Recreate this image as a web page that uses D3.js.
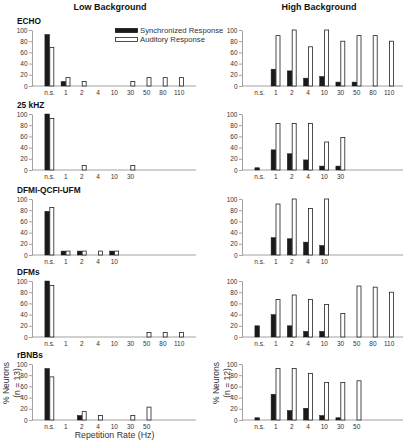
<!DOCTYPE html>
<html><head><meta charset="utf-8">
<script src="https://cdn.jsdelivr.net/npm/d3@7"></script>
<style>
html,body{margin:0;padding:0;background:#fff;}
svg{display:block;font-family:"Liberation Sans",Arial,Helvetica,sans-serif;}
</style></head>
<body>
<svg id="chart" width="403" height="440"></svg>
<script>
// ---- data ----
const categories = ["n.s.","1","2","4","10","30","50","80","110"];
const panelTitles = ["ECHO","25 kHZ","DFMI-QCFI-UFM","DFMs","rBNBs"];
const columnTitles = ["Low Background","High Background"];
const legendLabels = ["Synchronized Response","Auditory Response"];
const yTicks = [0,20,40,60,80,100];
// number of labelled categories per row (low, high)
const labelCountsLow  = [9,6,5,9,7];
const labelCountsHigh = [9,6,5,9,7];

// Low background
const lowEchoSync  = [92,8,0,0,0,0,0,0,0];
const lowEchoAud   = [69,15,8,0,0,8,15,15,15];
const low25Sync    = [100,0,0,0,0,0,0,0,0];
const low25Aud     = [92,0,8,0,0,8,0,0,0];
const lowDfmiSync  = [78,7,7,0,7,0,0,0,0];
const lowDfmiAud   = [85,7,7,7,7,0,0,0,0];
const lowDfmSync   = [100,0,0,0,0,0,0,0,0];
const lowDfmAud    = [92,0,0,0,0,0,8,8,8];
const lowRbnbSync  = [92,0,8,0,0,0,0,0,0];
const lowRbnbAud   = [77,0,15,8,0,8,23,0,0];

// High background
const highEchoSync = [0,30,27,14,17,7,7,0,0];
const highEchoAud  = [0,90,100,70,100,80,90,90,80];
const high25Sync   = [4,36,29,18,7,7,0,0,0];
const high25Aud    = [0,83,83,83,50,58,0,0,0];
const highDfmiSync = [0,31,29,23,17,0,0,0,0];
const highDfmiAud  = [0,91,100,83,100,0,0,0,0];
const highDfmSync  = [20,40,20,10,10,0,0,0,0];
const highDfmAud   = [0,67,75,67,58,42,91,89,80];
const highRbnbSync = [4,46,17,21,8,4,0,0,0];
const highRbnbAud  = [0,92,92,83,67,67,70,0,0];

const lowSync  = [lowEchoSync, low25Sync, lowDfmiSync, lowDfmSync, lowRbnbSync];
const lowAud   = [lowEchoAud, low25Aud, lowDfmiAud, lowDfmAud, lowRbnbAud];
const highSync = [highEchoSync, high25Sync, highDfmiSync, highDfmSync, highRbnbSync];
const highAud  = [highEchoAud, high25Aud, highDfmiAud, highDfmAud, highRbnbAud];

// ---- layout ----
const svg = d3.select("#chart");
const rowTop = [30, 114, 199, 281, 364];
const rowH = 56;
const cols = [
  {axisX: 32, endX: 196, bandL: 41.4, bandR: 187.2, sync: lowSync, aud: lowAud, labels: labelCountsLow, n: "(n = 13)", nx: [9, 20]},
  {axisX: 242, endX: 403, bandL: 251.4, bandR: 397.2, sync: highSync, aud: highAud, labels: labelCountsHigh, n: "(n = 12)", nx: [219, 230]}
];
const barW = 4.6;
const axisColor = "#8a8a8a";
const textColor = "#333";

cols.forEach((c, ci) => {
  const x = d3.scaleBand().domain(categories).range([c.bandL, c.bandR]).padding(0);
  rowTop.forEach((top, ri) => {
    const y = d3.scaleLinear().domain([0,100]).range([top + rowH, top]);
    const g = svg.append("g");
    // y axis
    const ya = g.append("g").attr("transform", `translate(${c.axisX},0)`)
      .call(d3.axisLeft(y).tickValues(yTicks).tickSize(3).tickSizeOuter(0).tickPadding(1.5));
    ya.select(".domain").attr("stroke", axisColor).attr("stroke-width", 0.8);
    ya.selectAll(".tick line").attr("stroke", axisColor).attr("stroke-width", 0.8);
    ya.selectAll(".tick text").attr("fill", textColor).style("font-size", "6.5px").style("font-family", "inherit");
    // x axis
    const labelled = categories.slice(0, c.labels[ri]);
    const xa = g.append("g").attr("transform", `translate(0,${y(0)})`)
      .call(d3.axisBottom(x).tickValues(labelled).tickSize(0).tickPadding(4));
    xa.select(".domain").remove();
    xa.selectAll(".tick text").attr("fill", textColor).style("font-size", "6.5px").style("font-family", "inherit");
    g.append("line").attr("x1", c.axisX).attr("x2", c.endX)
      .attr("y1", y(0)).attr("y2", y(0)).attr("stroke", axisColor).attr("stroke-width", 0.8);
    // bars
    const sync = c.sync[ri], aud = c.aud[ri];
    g.selectAll("rect.sync").data(categories).join("rect").attr("class","sync")
      .attr("x", d => x(d) + x.bandwidth()/2 - barW)
      .attr("y", (d,i) => y(sync[i]))
      .attr("width", barW)
      .attr("height", (d,i) => y(0) - y(sync[i]))
      .attr("fill", "#1a1a1a").attr("stroke", "#1a1a1a").attr("stroke-width", 0.5);
    g.selectAll("rect.aud").data(categories).join("rect").attr("class","aud")
      .attr("x", d => x(d) + x.bandwidth()/2 + 0.3)
      .attr("y", (d,i) => y(aud[i]))
      .attr("width", barW - 0.6)
      .attr("height", (d,i) => y(0) - y(aud[i]))
      .attr("fill", "#fff").attr("stroke", "#222").attr("stroke-width", 0.8);
    // panel title (left column only)
    if (ci === 0) {
      g.append("text").attr("x", 17).attr("y", top - 6)
        .style("font-size", "8.3px").style("font-weight", "bold").attr("fill", "#111")
        .text(panelTitles[ri]);
    }
  });
  // column title
  svg.append("text").attr("x", ci === 0 ? 110 : 319).attr("y", 10)
    .attr("text-anchor", "middle").style("font-size", "9px").style("font-weight", "bold")
    .attr("fill", "#111").text(columnTitles[ci]);
  // y-axis label on last row
  const ly = rowTop[4] + 19;
  svg.append("text").attr("transform", `translate(${c.nx[0]},${ly}) rotate(-90)`)
    .attr("text-anchor", "middle").style("font-size", "8.5px").attr("fill", textColor).text("% Neurons");
  svg.append("text").attr("transform", `translate(${c.nx[1]},${ly}) rotate(-90)`)
    .attr("text-anchor", "middle").style("font-size", "8.5px").attr("fill", textColor).text(c.n);
});

// x-axis title
svg.append("text").attr("x", 114.5).attr("y", 437.5).attr("text-anchor", "middle")
  .style("font-size", "8.8px").attr("fill", textColor).text("Repetition Rate (Hz)");

// legend
const legend = svg.append("g");
legendLabels.forEach((lab, i) => {
  const ly = 28.5 + i * 9;
  legend.append("rect").attr("x", 115.5).attr("y", ly).attr("width", 22).attr("height", 4)
    .attr("fill", i === 0 ? "#1a1a1a" : "#fff").attr("stroke", i === 0 ? "#1a1a1a" : "#222").attr("stroke-width", 0.8);
  legend.append("text").attr("x", 140).attr("y", ly + 4.8)
    .style("font-size", "7.7px").attr("fill", textColor).text(lab);
});
</script>
</body></html>
